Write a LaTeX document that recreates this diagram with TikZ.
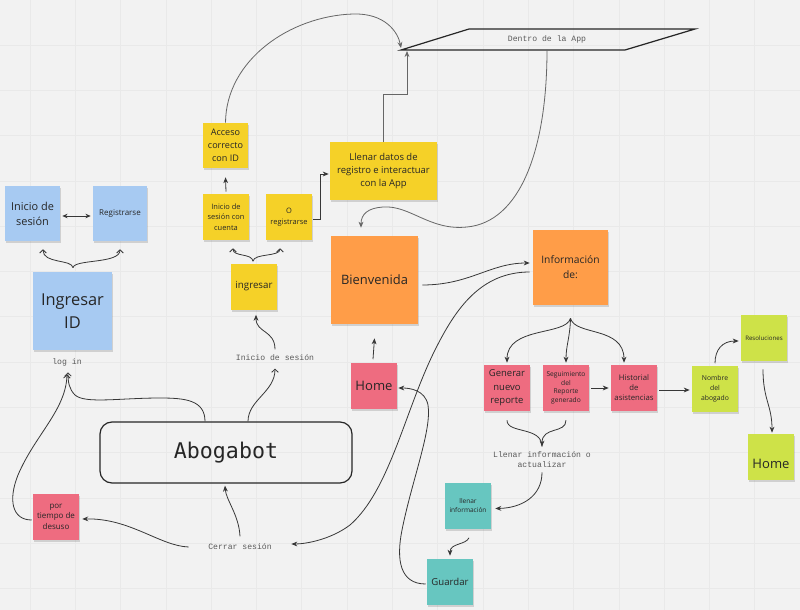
\documentclass[tikz,border=0pt]{standalone}
\usepackage{fontspec}
\setmainfont{Open Sans}
\newfontfamily\monof{Liberation Mono}
\newfontfamily\abof{DejaVu Sans Mono}
\usetikzlibrary{arrows.meta,calc,shadows}
\definecolor{bg}{RGB}{242,242,242}
\definecolor{gridc}{RGB}{233,233,233}
\definecolor{nblue}{RGB}{167,202,242}
\definecolor{nyellow}{RGB}{245,209,40}
\definecolor{norange}{RGB}{255,157,72}
\definecolor{npink}{RGB}{238,108,128}
\definecolor{nlime}{RGB}{206,226,72}
\definecolor{nteal}{RGB}{103,198,192}
\definecolor{lnc}{RGB}{55,55,55}
\definecolor{lbl}{RGB}{90,90,90}
\begin{document}
\begin{tikzpicture}[x=0.75pt,y=-0.75pt,
  note/.style={inner sep=1pt, align=center, text=black!85,
     drop shadow={shadow xshift=0.4pt, shadow yshift=-1.8pt, opacity=0.2, fill=black!70}},
  sq/.style={minimum width=34.5pt, minimum height=34.5pt},
  mlabel/.style={font=\monof\fontsize{6.1}{8}\selectfont, text=lbl, align=center, inner sep=1pt},
  conn/.style={draw=lnc, line width=0.6pt},
  arr/.style={conn, -{Stealth[length=4.5pt,width=3.6pt]}},
  barb/.style={conn, -{Straight Barb[length=2.4pt,width=5pt]}},
  gridline/.style={draw=gridc, line width=0.6pt}]
\useasboundingbox (0,0) rectangle (800,610);
\fill[bg] (0,0) rectangle (800,610);
\foreach \k in {0,...,16} {\pgfmathsetmacro\gx{30+45.3*\k} \draw[gridline] (\gx,0) -- (\gx,610);}
\foreach \k in {0,...,12} {\pgfmathsetmacro\gy{45+45.3*\k} \draw[gridline] (0,\gy) -- (800,\gy);}

% notes
\node[note, fill=nblue, minimum width=41.25pt, minimum height=41.25pt, font=\fontsize{8.2}{11.2}\selectfont] (ises) at (32.5,213.5) {Inicio de\\sesión};
\node[note, fill=nblue, minimum width=40.5pt, minimum height=41.25pt, font=\fontsize{6}{8}\selectfont] (reg) at (120,213.5) {Registrarse};
\node[note, fill=nblue, minimum width=59.25pt, minimum height=58.5pt, font=\fontsize{12.3}{17.5}\selectfont] (ing) at (72.5,311) {Ingresar\\ID};
\node[mlabel] (login) at (67,362) {log in};
\node[note, fill=nyellow, minimum width=33.75pt, minimum height=33.75pt, font=\fontsize{6.8}{9.75}\selectfont] (acc) at (225.5,145.5) {Acceso\\correcto\\con ID};
\node[note, fill=nyellow, sq, font=\fontsize{5.6}{8}\selectfont] (isc) at (226,217) {Inicio de\\sesión con\\cuenta};
\node[note, fill=nyellow, sq, font=\fontsize{5.6}{8}\selectfont] (ore) at (289,217) {O\\registrarse};
\node[note, fill=nyellow, sq, font=\fontsize{7.3}{9}\selectfont] (ingr) at (254,286.5) {ingresar};
\node[note, fill=nyellow, minimum width=80.25pt, minimum height=43.5pt, font=\fontsize{7.1}{9.75}\selectfont] (lle) at (383.5,171) {Llenar datos de\\registro e interactuar\\con la App};
\node[note, fill=norange, minimum width=65.25pt, minimum height=66pt, font=\fontsize{9.7}{12}\selectfont] (bien) at (374.5,280) {Bienvenida};
\node[note, fill=norange, minimum width=56.25pt, minimum height=56.25pt, font=\fontsize{7.7}{11.25}\selectfont] (info) at (570.5,267.5) {Información\\de:};
\node[note, fill=npink, sq, font=\fontsize{7.1}{10}\selectfont] (gen) at (507,388) {Generar\\nuevo\\reporte};
\node[note, fill=npink, sq, font=\fontsize{5}{6.4}\selectfont] (seg) at (566,388) {Seguimiento\\del\\Reporte\\generado};
\node[note, fill=npink, sq, font=\fontsize{5.8}{7.5}\selectfont] (his) at (634,388) {Historial\\de\\asistencias};
\node[note, fill=nlime, sq, font=\fontsize{5.1}{7.5}\selectfont] (nom) at (715,388.5) {Nombre\\del\\abogado};
\node[note, fill=nlime, sq, font=\fontsize{4.6}{6}\selectfont] (res) at (764,338) {Resoluciones};
\node[note, fill=nlime, sq, text height=17.5pt, font=\fontsize{9.8}{12}\selectfont] (homeg) at (771,457) {Home};
\node[note, fill=npink, sq, font=\fontsize{9.8}{12}\selectfont] (homep) at (374,385.5) {Home};
\node[note, fill=nteal, sq, font=\fontsize{4.9}{7}\selectfont] (lli) at (468,505.5) {llenar\\información};
\node[note, fill=nteal, sq, font=\fontsize{7.2}{9}\selectfont] (gua) at (450,582) {Guardar};
\node[note, fill=npink, sq, font=\fontsize{6}{7.9}\selectfont] (por) at (56,516.5) {por\\tiempo de\\desuso};
\node[draw=black!85, line width=0.9pt, rounded corners=9pt, minimum width=189pt, minimum height=45.75pt, font=\abof\fontsize{16.2}{18}\selectfont, text=black!85] (abo) at (226,452.5) {Abogabot};
\node[mlabel] (ini) at (275,358) {Inicio de sesión};
\node[mlabel] (cer) at (240,547) {Cerrar sesión};
\node[mlabel] (lbl) at (542,459.5) {Llenar información o\\actualizar};

% Dentro de la App
\coordinate (dL) at (401,50);
\draw[black!85, line width=0.9pt] (dL) -- (469,29) -- (695,29) -- (625,50) -- cycle;
\node[mlabel] (dentro) at (547,39.5) {Dentro de la App};
\coordinate (dB) at (547,50);
\coordinate (dA) at (407,51);

% connectors
\draw[conn, {Stealth[length=4pt,width=3.4pt]}-{Stealth[length=4pt,width=3.4pt]}] ($(ises.east)+(2,2.5)$) -- ($(reg.west)+(-2,2.5)$);
\coordinate (bc) at ($(ing.north)+(0.5,-4)$);
\draw[barb] (bc) .. controls (72,259) and (43,264) .. ($(ises.south)+(10.5,8)$);
\draw[barb] (bc) .. controls (74,259) and (120,264) .. ($(reg.south)+(0,8)$);
\coordinate (yc) at ($(ingr.north)+(-1,-2)$);
\draw[barb] (yc) .. controls (252,253) and (233,257) .. ($(isc.south)+(7,8)$);
\draw[barb] (yc) .. controls (254,253) and (280,257) .. ($(ore.south)+(-9,8)$);
\draw[arr] ($(isc.north)+(0,-2)$) -- ($(acc.south)+(0,9)$);
\draw[arr] ($(ore.east)+(1,2)$) -- ++(7,0) |- ($(lle.west)+(-1,3)$);
\draw[arr, draw=black!60] (lle.north) -- ++(0,-47) -| (dA);
\draw[arr, draw=black!60] (acc.north) .. controls (226,60) and (290,16) .. (353,14) .. controls (385,13) and (398,32) .. ($(dL)+(0,-2)$);
\draw[arr, draw=black!60] (dB) .. controls (547,150) and (520,222) .. (467,227) .. controls (430,231) and (410,205) .. (383,207) .. controls (368,208) and (361,214) .. ($(bien.north)+(-13.5,-8)$);
\draw[arr] ($(bien.east)+(4,5)$) .. controls (470,285) and (490,263) .. ($(info.west)+(-3,-4.5)$);
\draw[arr] ($(info.west)+(-3,4.5)$) .. controls (480,272) and (455,310) .. (435,350) .. controls (405,410) and (390,490) .. (350,525) .. controls (330,540) and (305,544) .. ($(cer.east)+(18,-3)$);
\coordinate (ic) at ($(info.south)+(0,13)$);
\draw[arr] (ic) .. controls (566,336) and (507,326) .. ($(gen.north)+(0,-2)$);
\draw[arr] (ic) .. controls (570,338) and (566,345) .. ($(seg.north)+(0,-2)$);
\draw[arr] (ic) .. controls (575,336) and (624,326) .. ($(his.north)+(-10,-2)$);
\draw[arr] ($(seg.east)+(2,0)$) -- ($(his.west)+(-2,0)$);
\draw[arr] ($(his.east)+(2,2)$) -- ($(nom.west)+(-2,1.5)$);
\draw[arr] ($(nom.north)+(0,-2)$) .. controls (715,350) and (722,341) .. ($(res.west)+(-2,3)$);
\draw[arr] ($(res.south)+(-1,8)$) .. controls (763,400) and (772,405) .. ($(homeg.north)+(1,-1)$);
\coordinate (lj) at ($(lbl.north)+(0,-3)$);
\draw[conn] ($(gen.south)+(0,9)$) .. controls (507,434) and (542,426) .. (lj);
\draw[arr] ($(seg.south)+(0,9)$) .. controls (566,434) and (542,426) .. (lj);
\draw[arr] ($(lbl.south)+(0,3)$) .. controls (542,496) and (522,508) .. ($(lli.east)+(4,3)$);
\draw[arr] ($(lli.south)+(1,9)$) .. controls (466,545) and (450,543) .. ($(gua.north)+(0,-3)$);
\draw[arr] ($(gua.west)+(-1,2)$) .. controls (400,584) and (396,560) .. (402,530) .. controls (412,480) and (432,430) .. (428,405) .. controls (425,390) and (410,388) .. ($(homep.east)+(1,2.5)$);
\draw[arr] ($(homep.north)+(-1,-3)$) -- ($(bien.south)+(0,14)$);
\draw[barb] ($(abo.north)+(-21,0)$) .. controls (205,400) and (185,398) .. (160,398) .. controls (120,398) and (85,404) .. (75,395) .. controls (69,389) and (68,382) .. ($(login.south)+(1,5)$);
\draw[barb] ($(abo.north)+(22,0)$) .. controls (248,400) and (275,392) .. ($(ini.south)+(0,6)$);
\draw[arr] ($(ini.north)+(0,-4)$) .. controls (275,330) and (256,333) .. ($(ingr.south)+(2,5)$);
\draw[arr] ($(cer.north)+(0,-6)$) .. controls (239,515) and (226,500) .. ($(abo.south)+(-1,2)$);
\draw[arr] ($(cer.west)+(-18,0)$) .. controls (160,546) and (130,518) .. ($(por.east)+(3,2.5)$);
\draw[barb] ($(por.west)+(-1,3.5)$) .. controls (12,520) and (8,500) .. (18,475) .. controls (35,435) and (66,410) .. ($(login.south)+(0,7)$);
\end{tikzpicture}
\end{document}
